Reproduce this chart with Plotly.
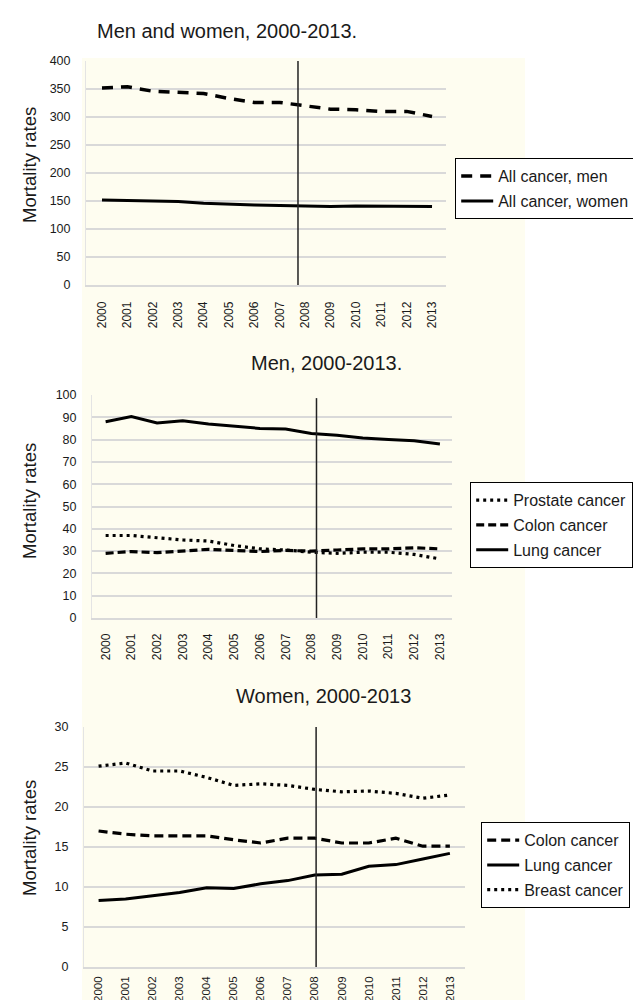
import plotly.graph_objects as go

years = list(range(2000, 2014))
year_labels = [str(y) for y in years]

# Panel 1: Men and women
all_men = [352, 354, 346, 344, 342, 333, 326, 326, 320, 314, 313, 310, 310, 301]
all_women = [152, 151, 150, 149, 146, 144, 143, 142, 141, 140, 141, 141, 140, 140]

# Panel 2: Men
men_prostate = [37, 37, 36, 35, 34.5, 32.5, 31, 30.5, 29.5, 29, 29.5, 29.5, 28.5, 26.5]
men_colon = [29, 29.8, 29.3, 30, 30.8, 30.3, 29.8, 30.3, 30, 30.5, 31, 31, 31.5, 31]
men_lung = [88, 90.3, 87.5, 88.5, 87, 86, 85, 84.7, 82.7, 82, 80.7, 80, 79.5, 78]

# Panel 3: Women
women_colon = [17.0, 16.6, 16.4, 16.4, 16.4, 15.9, 15.5, 16.1, 16.1, 15.5, 15.5, 16.1, 15.1, 15.1]
women_lung = [8.3, 8.5, 8.9, 9.3, 9.9, 9.8, 10.4, 10.8, 11.5, 11.6, 12.6, 12.8, 13.5, 14.2]
women_breast = [25.1, 25.5, 24.5, 24.5, 23.7, 22.7, 22.9, 22.7, 22.2, 21.9, 22.0, 21.7, 21.1, 21.5]

titles = ["Men and women, 2000-2013.", "Men, 2000-2013.", "Women, 2000-2013"]
y_title = "Mortality rates"

W, H = 641, 1000
FONT = "Liberation Sans, Arial, sans-serif"
TXT = "#1a1a1a"
GRID = "#d9d9d9"
CREAM = "#FEFDF0"

fig = go.Figure()

def px_x(p):
    return p / W

def px_y(p):
    return 1 - p / H

fig.add_trace(go.Scatter(x=years, y=all_men, mode="lines", name="All cancer, men",
                         line=dict(color="black", width=3.5, dash="11px,8px"),
                         xaxis="x", yaxis="y", legend="legend", legendgroup="a"))
fig.add_trace(go.Scatter(x=years, y=all_women, mode="lines", name="All cancer, women",
                         line=dict(color="black", width=3),
                         xaxis="x", yaxis="y", legend="legend", legendgroup="b"))

fig.add_trace(go.Scatter(x=years, y=men_prostate, mode="lines", name="Prostate cancer",
                         line=dict(color="black", width=3.2, dash="3px,4px"),
                         xaxis="x2", yaxis="y2", legend="legend2", legendgroup="c"))
fig.add_trace(go.Scatter(x=years, y=men_colon, mode="lines", name="Colon cancer",
                         line=dict(color="black", width=3.2, dash="8px,4px"),
                         xaxis="x2", yaxis="y2", legend="legend2", legendgroup="d"))
fig.add_trace(go.Scatter(x=years, y=men_lung, mode="lines", name="Lung cancer",
                         line=dict(color="black", width=3),
                         xaxis="x2", yaxis="y2", legend="legend2", legendgroup="e"))

fig.add_trace(go.Scatter(x=years, y=women_colon, mode="lines", name="Colon cancer",
                         line=dict(color="black", width=3.2, dash="9px,5px"),
                         xaxis="x3", yaxis="y3", legend="legend3", legendgroup="f"))
fig.add_trace(go.Scatter(x=years, y=women_lung, mode="lines", name="Lung cancer",
                         line=dict(color="black", width=3),
                         xaxis="x3", yaxis="y3", legend="legend3", legendgroup="g"))
fig.add_trace(go.Scatter(x=years, y=women_breast, mode="lines", name="Breast cancer",
                         line=dict(color="black", width=3.2, dash="3px,4px"),
                         xaxis="x3", yaxis="y3", legend="legend3", legendgroup="h"))

def xax(left, right, xr, anchor, standoff, fsize=12):
    return dict(domain=[px_x(left), px_x(right)], range=xr, anchor=anchor,
                tickmode="array", tickvals=years, ticktext=year_labels,
                tickangle=-90, showgrid=False, zeroline=False,
                showline=True, linecolor=GRID, linewidth=1.5,
                ticks="", ticklabelstandoff=standoff, automargin=False,
                tickfont=dict(family=FONT, size=fsize, color=TXT))

def yax(top, bottom, yr, dtick, anchor):
    return dict(domain=[px_y(bottom), px_y(top)], range=yr, anchor=anchor,
                dtick=dtick, tick0=0, showgrid=True, gridcolor=GRID, gridwidth=1.5,
                zeroline=False, showline=True, linecolor="#e4e4e4", linewidth=1,
                ticks="", ticklabelstandoff=12, automargin=False,
                tickfont=dict(family=FONT, size=12.5, color=TXT))

fig.update_layout(
    width=W, height=H, template="none",
    margin=dict(l=0, r=0, t=0, b=0),
    paper_bgcolor="white", plot_bgcolor="rgba(0,0,0,0)",
    xaxis=xax(78, 438, [1999.37, 2013.55], "y", 10),
    yaxis=yax(53, 277, [0, 400], 50, "x"),
    xaxis2=xax(84, 444, [1999.47, 2013.47], "y2", 9),
    yaxis2=yax(387, 610, [0, 100], 10, "x2"),
    xaxis3=xax(76, 457, [1999.46, 2013.56], "y3", 3, 11.5),
    yaxis3=yax(719, 959, [0, 30], 5, "x3"),
)

legend_common = dict(bgcolor="white", bordercolor="black", borderwidth=1.2,
                     font=dict(family=FONT, size=16, color=TXT),
                     xanchor="left", yanchor="top", tracegroupgap=1,
                     itemwidth=32)
fig.update_layout(
    legend=dict(x=px_x(447), y=px_y(150), **legend_common),
    legend2=dict(x=px_x(462), y=px_y(474), **legend_common),
    legend3=dict(x=px_x(473), y=px_y(814), **legend_common),
)

shapes = [
    dict(type="rect", xref="paper", yref="paper", x0=px_x(74), x1=px_x(517),
         y0=0, y1=px_y(50), fillcolor=CREAM, line=dict(width=0), layer="below"),
    dict(type="line", xref="x", yref="y", x0=2007.72, x1=2007.72, y0=0, y1=400,
         line=dict(color="#222", width=1.5)),
    dict(type="line", xref="x2", yref="y2", x0=2008.2, x1=2008.2, y0=0, y1=98.6,
         line=dict(color="#222", width=1.5)),
    dict(type="line", xref="x3", yref="y3", x0=2008.05, x1=2008.05, y0=0, y1=30,
         line=dict(color="#222", width=1.5)),
]
fig.update_layout(shapes=shapes)

annotations = []
for t, xc, yc in zip(titles, [219, 318, 315], [23, 355, 688]):
    annotations.append(dict(text=t, x=px_x(xc), y=px_y(yc), xref="paper", yref="paper",
                            xanchor="center", yanchor="middle", showarrow=False,
                            font=dict(family=FONT, size=20, color=TXT)))
for yc in [157, 493, 830]:
    annotations.append(dict(text=y_title, x=px_x(21), y=px_y(yc),
                            xref="paper", yref="paper", showarrow=False, textangle=-90,
                            xanchor="center", yanchor="middle",
                            font=dict(family=FONT, size=18.5, color=TXT)))
fig.update_layout(annotations=annotations)

fig.write_html("out.html")
